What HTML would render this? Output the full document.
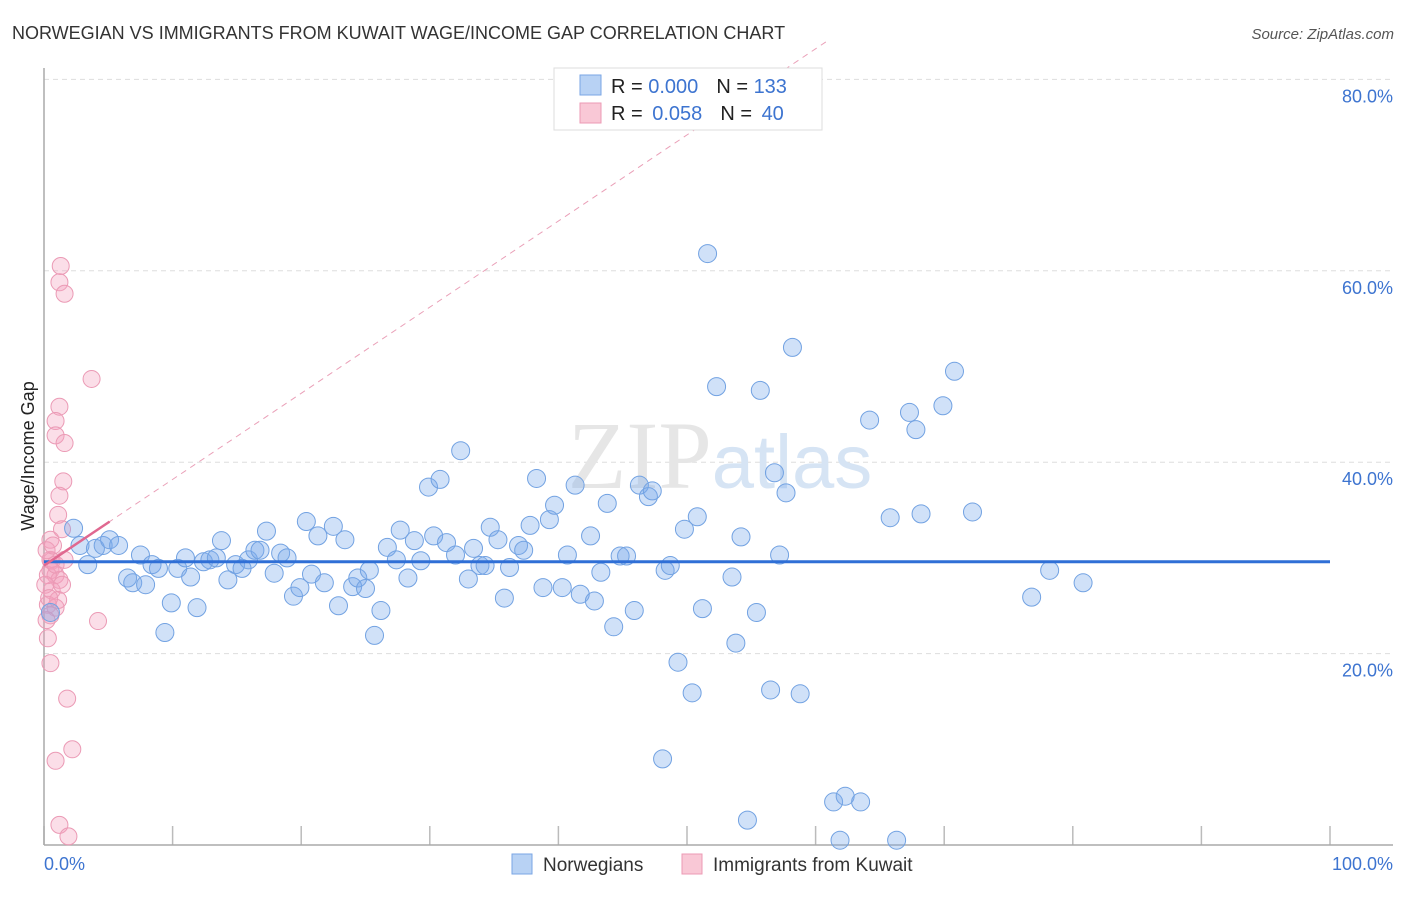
<!DOCTYPE html>
<html><head><meta charset="utf-8"><style>
body{margin:0;background:#fff;font-family:"Liberation Sans",sans-serif}
</style></head><body>
<svg id="chart" width="1406" height="892" xmlns="http://www.w3.org/2000/svg" font-family="Liberation Sans, sans-serif">
<text x="12" y="39" font-size="18" fill="#333">NORWEGIAN VS IMMIGRANTS FROM KUWAIT WAGE/INCOME GAP CORRELATION CHART</text>
<text x="1394" y="39" font-size="15" fill="#555" font-style="italic" text-anchor="end">Source: ZipAtlas.com</text>
<g id="grid"></g>
<text x="720" y="488" font-size="96" text-anchor="middle" fill="#e6e6e6" font-family="Liberation Serif, serif">ZIP<tspan fill="#d6e4f4" font-family="Liberation Sans, sans-serif" font-size="76">atlas</tspan></text>
<line x1="44" y1="68" x2="44" y2="845" stroke="#aaa" stroke-width="1.5"/>
<line x1="44" y1="845" x2="1393" y2="845" stroke="#aaa" stroke-width="1.5"/>
<text transform="translate(34,456) rotate(-90)" font-size="18" fill="#222" text-anchor="middle">Wage/Income Gap</text>
<g id="marks"></g>
<g>
<rect x="554" y="68" width="268" height="62" fill="#fff" stroke="#ddd"/>
<rect x="580" y="75" width="21" height="20" fill="#b8d2f4" stroke="#7aa6e4"/>
<text x="611" y="93" font-size="20" fill="#222">R = <tspan fill="#3d74d0">0.000</tspan><tspan dx="18">N = </tspan><tspan fill="#3d74d0">133</tspan></text>
<rect x="580" y="103" width="21" height="20" fill="#f9c8d6" stroke="#ec9ab4"/>
<text x="611" y="120" font-size="20" fill="#222">R = <tspan fill="#3d74d0" dx="4">0.058</tspan><tspan dx="18">N = </tspan><tspan fill="#3d74d0" dx="4">40</tspan></text>
</g>
<g>
<rect x="512" y="854" width="20" height="20" fill="#b8d2f4" stroke="#7aa6e4"/>
<text x="543" y="871" font-size="19" fill="#333">Norwegians</text>
<rect x="682" y="854" width="20" height="20" fill="#f9c8d6" stroke="#ec9ab4"/>
<text x="713" y="871" font-size="19" fill="#333">Immigrants from Kuwait</text>
</g>
<text x="44" y="870" font-size="18" fill="#3d74d0">0.0%</text>
<text x="1393" y="870" font-size="18" fill="#3d74d0" text-anchor="end">100.0%</text>
</svg>
<script>
const yTicks=[20,40,60,80];
const yTickLabels=["20.0%","40.0%","60.0%","80.0%"];
const xTicks=[0,10,20,30,40,50,60,70,80,90,100];
const blueX=[2.3,2.8,3.4,4.0,4.6,5.1,5.8,6.5,6.9,7.5,7.9,8.4,8.9,9.4,9.9,10.4,11.0,11.4,11.9,12.4,12.9,13.4,13.8,14.3,14.9,15.4,15.9,16.4,16.8,17.3,17.9,18.4,18.9,19.4,19.9,20.4,20.8,21.3,21.8,22.5,22.9,23.4,24.0,24.4,25.0,25.3,25.7,26.2,26.7,27.4,27.7,28.3,28.8,29.3,29.9,30.3,30.8,31.3,32.0,32.4,33.0,33.4,33.9,34.3,34.7,35.3,35.8,36.2,36.9,37.3,37.8,38.3,38.8,39.3,39.7,40.3,40.7,41.3,41.7,42.5,42.8,43.3,43.8,44.3,44.8,45.3,45.9,46.3,47.0,47.3,48.3,48.7,49.3,49.8,50.4,50.8,51.2,51.6,52.3,53.5,53.8,54.2,54.7,55.4,55.7,56.5,56.8,57.2,57.7,58.2,58.8,61.4,61.9,62.3,63.5,64.2,65.8,66.3,67.3,67.8,68.2,69.9,70.8,72.2,76.8,78.2,80.8,48.1,0.5];
const blueY=[33.1,31.3,29.3,31.0,31.3,31.9,31.3,27.9,27.4,30.3,27.2,29.3,28.9,22.2,25.3,28.9,30.0,28.0,24.8,29.6,29.8,30.0,31.8,27.7,29.3,28.9,29.8,30.8,30.8,32.8,28.4,30.5,30.0,26.0,26.9,33.8,28.3,32.3,27.4,33.3,25.0,31.9,27.0,27.9,26.8,28.7,21.9,24.5,31.1,29.8,32.9,27.9,31.8,29.7,37.4,32.3,38.2,31.6,30.3,41.2,27.8,31.0,29.2,29.2,33.2,31.9,25.8,29.0,31.3,30.8,33.4,38.3,26.9,34.0,35.5,26.9,30.3,37.6,26.2,32.3,25.5,28.5,35.7,22.8,30.2,30.2,24.5,37.6,36.4,37.0,28.7,29.2,19.1,33.0,15.9,34.3,24.7,61.8,47.9,28.0,21.1,32.2,2.6,24.3,47.5,16.2,38.9,30.3,36.8,52.0,15.8,4.5,0.5,5.1,4.5,44.4,34.2,0.5,45.2,43.4,34.6,45.9,49.5,34.8,25.9,28.7,27.4,9.0,24.3];
const pinkX=[1.3,1.2,1.6,3.7,1.2,0.9,0.9,1.6,1.5,1.2,1.1,1.4,0.5,0.6,0.5,0.9,1.2,0.6,0.3,0.9,0.5,4.2,0.3,0.5,1.8,2.2,0.9,1.2,1.9,0.5,0.2,0.3,1.4,0.9,0.1,0.2,0.7,1.1,0.4,1.6];
const pinkY=[60.5,58.8,57.6,48.7,45.8,44.3,42.8,42.0,38.0,36.5,34.5,33.0,31.9,29.7,28.7,28.2,27.7,26.6,25.1,24.8,24.0,23.4,21.6,19.0,15.3,10.0,8.8,2.1,0.9,29.8,30.8,28.2,27.2,29.3,27.2,23.5,31.3,25.6,25.8,29.8];
const blueFit=[29.6,29.6];
const pinkIntercept=29.2, pinkSlope=0.9;

const NS="http://www.w3.org/2000/svg";
const xs=v=>44+v*12.86;
const ys=v=>845-v*9.57;
function mk(tag,attrs,parent){const e=document.createElementNS(NS,tag);for(const k in attrs)e.setAttribute(k,attrs[k]);parent.appendChild(e);return e;}
const grid=document.getElementById('grid');
yTicks.forEach((t,i)=>{
  const l=mk('line',{x1:44,x2:1393,y1:ys(t),y2:ys(t),stroke:'#ddd','stroke-dasharray':'5,4'},grid);
  
  
  const tx=mk('text',{x:1393,y:ys(t)+23,'font-size':18,fill:'#3d74d0','text-anchor':'end'},grid);
  tx.textContent=yTickLabels[i];
  
  
});
xTicks.forEach(t=>{
  const l=mk('line',{x1:xs(t),x2:xs(t),y1:826,y2:845,stroke:'#bbb','stroke-width':1.5},grid);
  
  
});
const marks=document.getElementById('marks');
pinkX.forEach((x,i)=>{
  const c=mk('circle',{cx:xs(x),cy:ys(pinkY[i]),r:8.5,fill:'rgba(244,160,188,0.35)',stroke:'#eb9ab5','stroke-width':1},marks);
  
  
});
blueX.forEach((x,i)=>{
  const c=mk('circle',{cx:xs(x),cy:ys(blueY[i]),r:9,fill:'rgba(120,170,235,0.35)',stroke:'#72a2e2','stroke-width':1},marks);
  
  
});
const bl=mk('line',{x1:xs(0),x2:xs(100),y1:ys(blueFit[0]),y2:ys(blueFit[1]),stroke:'#2f6fd6','stroke-width':3},marks);


const xEnd=(84-pinkIntercept)/pinkSlope;
const pd=mk('line',{x1:xs(0),x2:xs(xEnd),y1:ys(pinkIntercept),y2:ys(pinkIntercept+pinkSlope*xEnd),stroke:'#eaa0b8','stroke-width':1,'stroke-dasharray':'6,5'},marks);


const ps=mk('line',{x1:xs(0),x2:xs(5.1),y1:ys(pinkIntercept),y2:ys(pinkIntercept+pinkSlope*5.1),stroke:'#e06890','stroke-width':2.5},marks);


</script>
</body></html>
